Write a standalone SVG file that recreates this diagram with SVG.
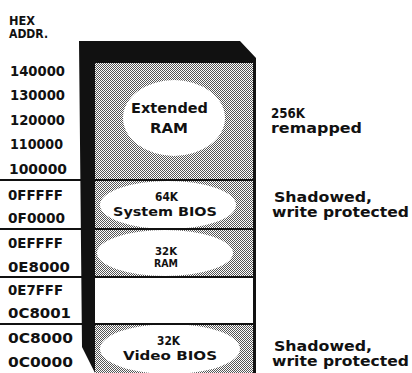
<svg xmlns="http://www.w3.org/2000/svg" width="412" height="373" viewBox="0 0 412 373">
<style>
text{font-family:"DejaVu Sans","Liberation Sans",sans-serif;font-weight:bold;fill:#111;}
.addr{font-size:13.5px;}
.hdr{font-size:11.5px;}
.box{font-size:12px;}
.tight{font-size:10.5px;}
.big{font-size:14px;}
.note{font-size:14px;}
.sep{stroke:#111;stroke-width:2;}
.hole{fill:#fff;}
</style>
<defs>
<pattern id="dots" width="2" height="2" patternUnits="userSpaceOnUse">
<rect width="2" height="2" fill="#fff"/>
<rect x="0" y="0" width="1" height="1" fill="#555"/>
<rect x="1" y="1" width="1" height="1" fill="#555"/>
</pattern>
</defs>
<g id="header">
<text class="hdr" x="9" y="24.5" textLength="26" lengthAdjust="spacingAndGlyphs">HEX</text>
<text class="hdr" x="9" y="38" textLength="39" lengthAdjust="spacingAndGlyphs">ADDR.</text>
</g>
<g id="frame">
<polygon points="79,41 240,41 256,58 256,373 253,373 253,63 95,63 95,373 82,347" fill="#111"/>
</g>
<g id="extended">
<rect x="95" y="63" width="158" height="117" fill="url(#dots)"/>
<ellipse class="hole" cx="174" cy="118" rx="51" ry="38"/>
<text class="big" x="131" y="113" textLength="77" lengthAdjust="spacingAndGlyphs">Extended</text>
<text class="big" x="150" y="133" textLength="38" lengthAdjust="spacingAndGlyphs">RAM</text>
<text class="addr" x="10" y="76" textLength="55" lengthAdjust="spacingAndGlyphs">140000</text>
<text class="addr" x="10" y="100" textLength="55" lengthAdjust="spacingAndGlyphs">130000</text>
<text class="addr" x="10" y="125" textLength="55" lengthAdjust="spacingAndGlyphs">120000</text>
<text class="addr" x="10" y="149" textLength="53" lengthAdjust="spacingAndGlyphs">110000</text>
<text class="addr" x="9" y="174" textLength="58" lengthAdjust="spacingAndGlyphs">100000</text>
<text class="note" x="271" y="118" textLength="34" lengthAdjust="spacingAndGlyphs">256K</text>
<text class="note" x="271" y="133" textLength="91" lengthAdjust="spacingAndGlyphs">remapped</text>
</g>
<g id="system-bios">
<rect x="95" y="180" width="158" height="49" fill="url(#dots)"/>
<ellipse class="hole" cx="168" cy="205" rx="68" ry="24"/>
<text class="box" x="155" y="201" textLength="23" lengthAdjust="spacingAndGlyphs">64K</text>
<text class="box" x="113" y="216" textLength="104" lengthAdjust="spacingAndGlyphs">System BIOS</text>
<text class="addr" x="8" y="200" textLength="55" lengthAdjust="spacingAndGlyphs">0FFFFF</text>
<text class="addr" x="8" y="223" textLength="57" lengthAdjust="spacingAndGlyphs">0F0000</text>
<text class="note" x="274" y="202" textLength="98" lengthAdjust="spacingAndGlyphs">Shadowed,</text>
<text class="note" x="272" y="217" textLength="137" lengthAdjust="spacingAndGlyphs">write protected</text>
</g>
<g id="ram-32k">
<rect x="95" y="229" width="158" height="48" fill="url(#dots)"/>
<ellipse class="hole" cx="165" cy="253" rx="68" ry="23"/>
<text class="tight" x="155" y="254.5" textLength="22" lengthAdjust="spacingAndGlyphs">32K</text>
<text class="tight" x="154" y="267" textLength="24" lengthAdjust="spacingAndGlyphs">RAM</text>
<text class="addr" x="8" y="248" textLength="55" lengthAdjust="spacingAndGlyphs">0EFFFF</text>
<text class="addr" x="8" y="272" textLength="62" lengthAdjust="spacingAndGlyphs">0E8000</text>
</g>
<g id="unused">
<rect x="95" y="277" width="158" height="47" fill="#fff"/>
<text class="addr" x="8" y="295" textLength="55" lengthAdjust="spacingAndGlyphs">0E7FFF</text>
<text class="addr" x="8" y="318" textLength="63" lengthAdjust="spacingAndGlyphs">0C8001</text>
</g>
<g id="video-bios">
<rect x="95" y="324" width="158" height="49" fill="url(#dots)"/>
<ellipse class="hole" cx="170" cy="349" rx="70" ry="25"/>
<text class="box" x="157" y="345" textLength="23" lengthAdjust="spacingAndGlyphs">32K</text>
<text class="box" x="123" y="360" textLength="94" lengthAdjust="spacingAndGlyphs">Video BIOS</text>
<text class="addr" x="8" y="343" textLength="65" lengthAdjust="spacingAndGlyphs">0C8000</text>
<text class="addr" x="8" y="367" textLength="65" lengthAdjust="spacingAndGlyphs">0C0000</text>
<text class="note" x="274" y="351" textLength="98" lengthAdjust="spacingAndGlyphs">Shadowed,</text>
<text class="note" x="272" y="366" textLength="137" lengthAdjust="spacingAndGlyphs">write protected</text>
</g>
<g id="connectors">
<line class="sep" x1="0" y1="180" x2="81" y2="180"/>
<line class="sep" x1="0" y1="229" x2="81" y2="229"/>
<line class="sep" x1="0" y1="277" x2="82" y2="277"/>
<line class="sep" x1="0" y1="324" x2="82" y2="324"/>
<line class="sep" x1="95" y1="180" x2="254" y2="180"/>
<line class="sep" x1="95" y1="229" x2="254" y2="229"/>
<line class="sep" x1="95" y1="277" x2="254" y2="277"/>
<line class="sep" x1="95" y1="324" x2="254" y2="324"/>
</g>
</svg>
